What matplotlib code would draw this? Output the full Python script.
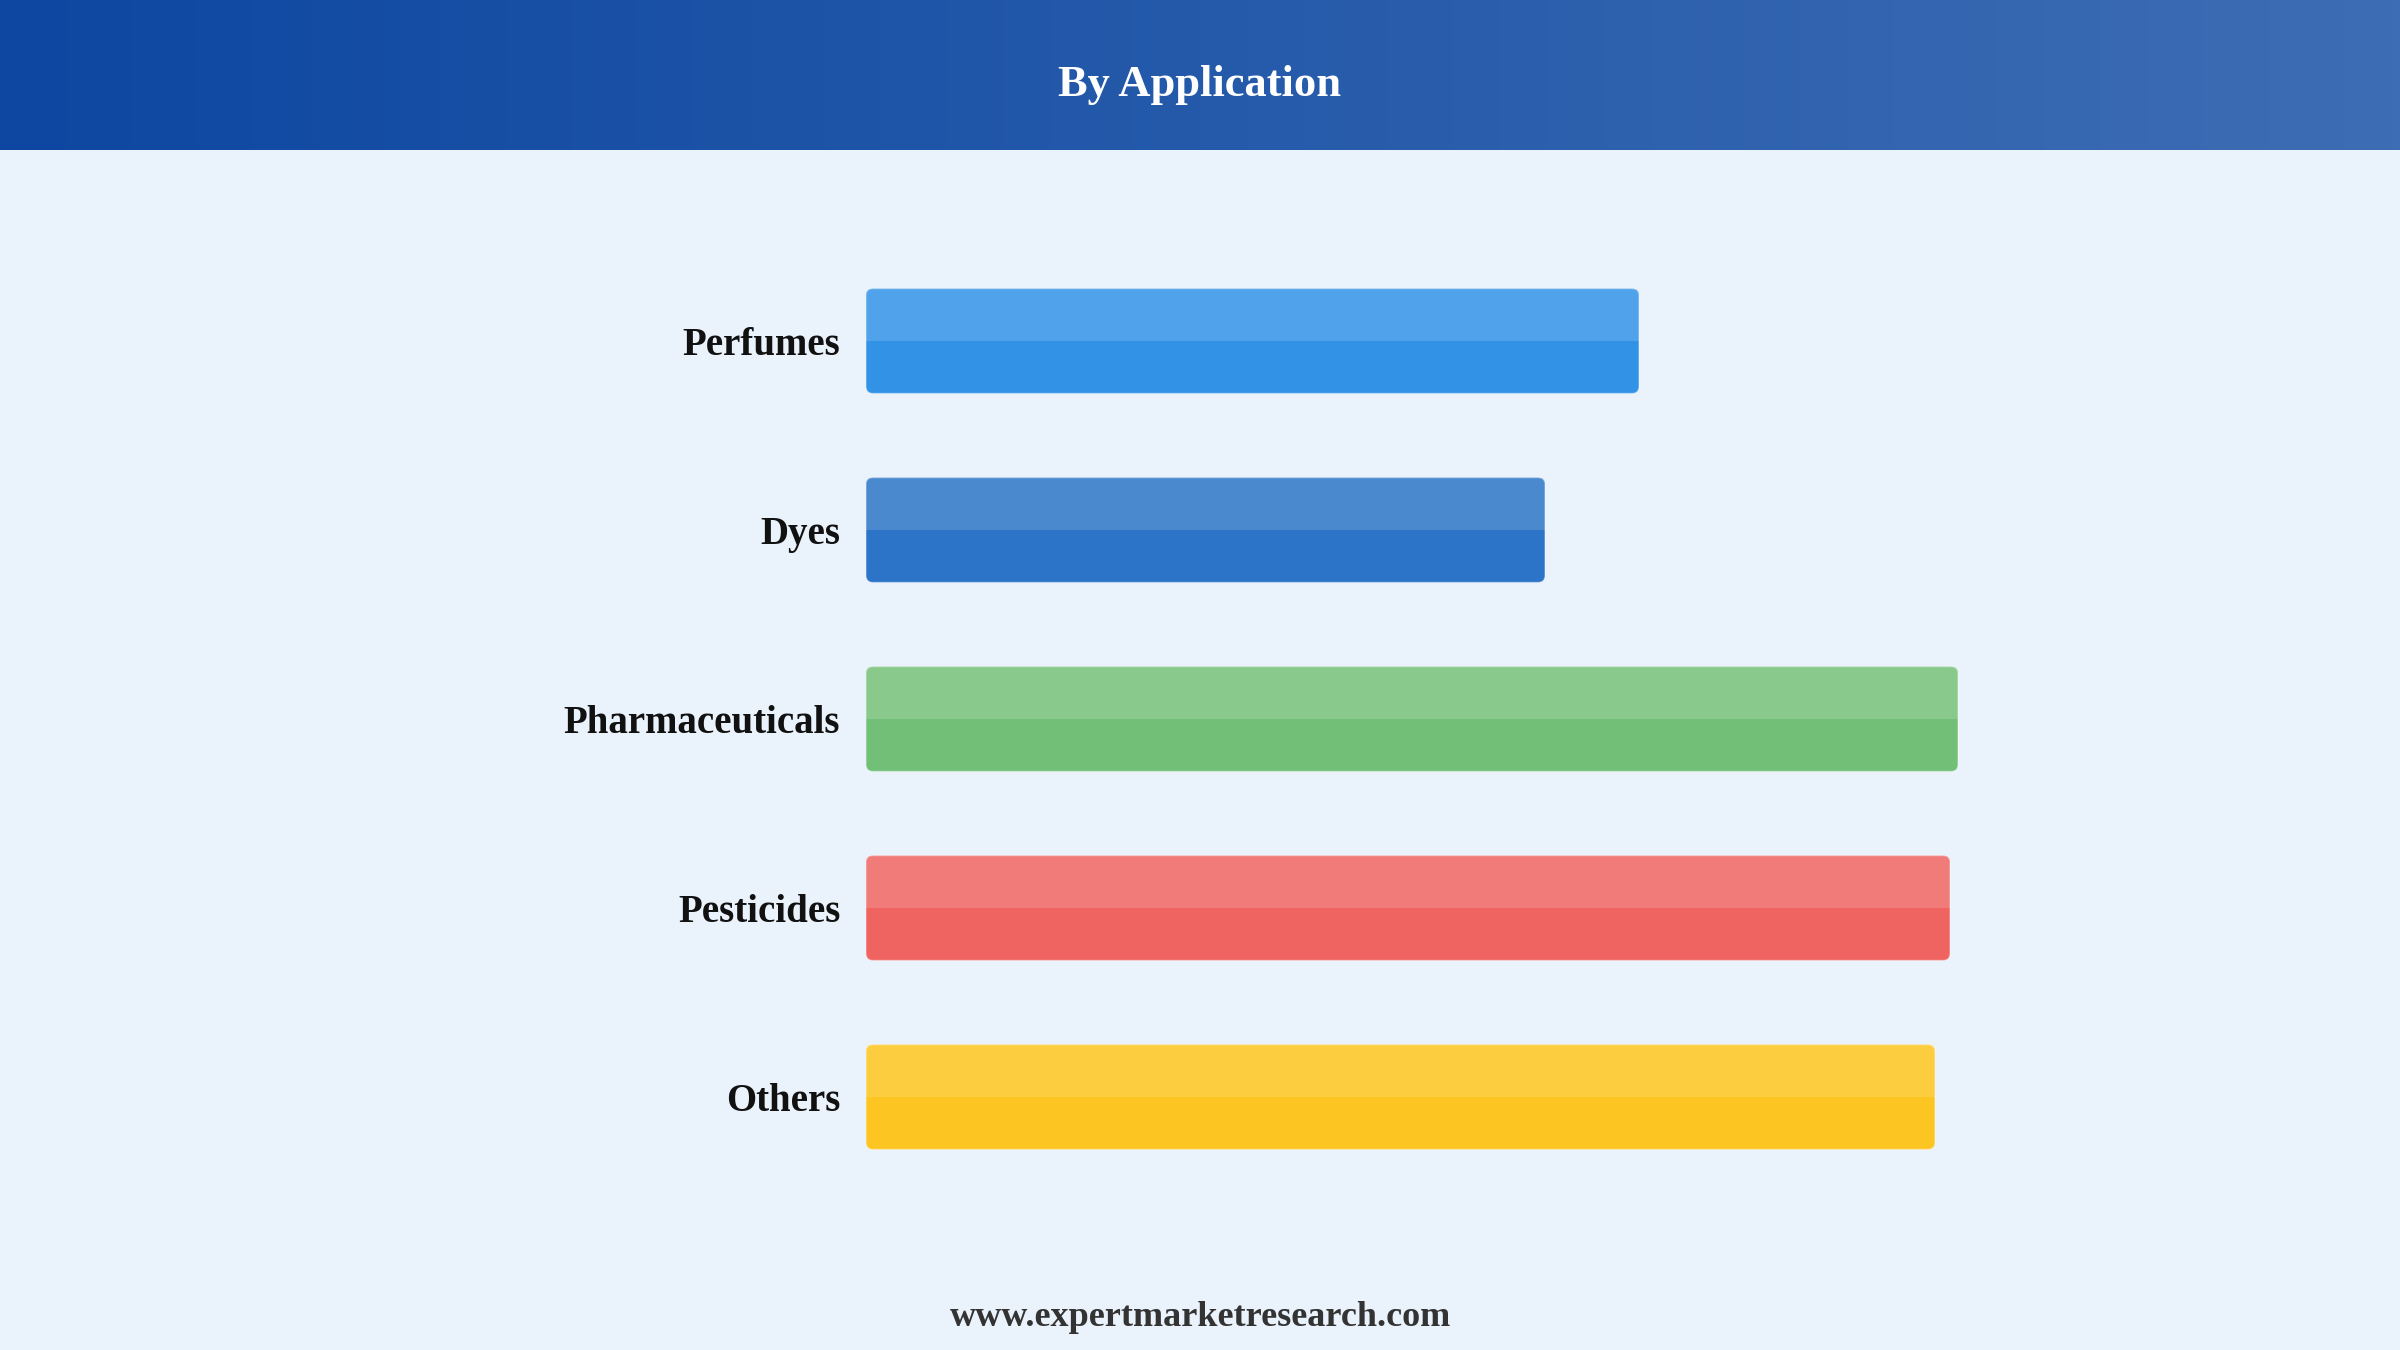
import matplotlib
matplotlib.use('Agg')
import matplotlib.pyplot as plt
import numpy as np
from matplotlib.colors import LinearSegmentedColormap
from matplotlib.patches import FancyBboxPatch, Rectangle

# data
categories = ['Perfumes', 'Dyes', 'Pharmaceuticals', 'Pesticides', 'Others']
values = [7.73, 6.79, 10.92, 10.84, 10.69]
dark_colors = ['#3192E6', '#2C74C8', '#72C077', '#EF6461', '#FDC521']
light_colors = ['#50A3EB', '#4B89CE', '#89CA8C', '#F07B78', '#FDCD40']
title = 'By Application'
footer = 'www.expertmarketresearch.com'

plt.rcParams['font.family'] = ['Liberation Serif', 'DejaVu Serif']

W, H = 2400, 1350
fig = plt.figure(figsize=(24, 13.5), dpi=100)
fig.patch.set_facecolor('#EAF2FB')

# header band with horizontal gradient
hdr = fig.add_axes([0, 1 - 150 / H, 1, 150 / H])
cmap = LinearSegmentedColormap.from_list('hdr', ['#0D47A1', '#3D6DB4'])
hdr.imshow(np.linspace(0, 1, 256)[None, :], aspect='auto', cmap=cmap,
           extent=[0, 1, 0, 1])
hdr.set_axis_off()
fig.text(0.5, 1 - 85 / H, title, ha='center', va='center', fontsize=32,
         fontweight='bold', color='white')

# bar axes
x0, x1 = 866, 1966
xmax = 11.0
ax = fig.add_axes([x0 / W, 1 - 1191.5 / H, (x1 - x0) / W, 945 / H])
ax.set_facecolor('none')
ax.set_xlim(0, xmax)
ax.set_ylim(4.5, -0.5)
for s in ax.spines.values():
    s.set_visible(False)
ax.set_xticks([])
ax.set_yticks(range(len(categories)))
ax.set_yticklabels(categories, fontsize=28, fontweight='bold', color='#111111')
ax.tick_params(axis='y', length=0, pad=18.5)

bar_h = 0.555
bars = ax.barh(range(len(categories)), values, height=bar_h)
xpp = xmax / (x1 - x0)
ypp = 5.0 / 945
radius = 7 * xpp
for i, b in enumerate(bars):
    x, y, w, h = b.get_x(), b.get_y(), b.get_width(), b.get_height()
    b.set_visible(False)
    box = FancyBboxPatch((x, y), w, h,
                         boxstyle='round,pad=0,rounding_size=%f' % radius,
                         mutation_aspect=ypp / xpp,
                         facecolor=dark_colors[i], edgecolor='none', zorder=2)
    ax.add_patch(box)
    top = Rectangle((x, y), w, h / 2, facecolor=light_colors[i],
                    edgecolor='none', zorder=3)
    ax.add_patch(top)
    top.set_clip_path(box)
    edge = FancyBboxPatch((x, y), w, h,
                          boxstyle='round,pad=0,rounding_size=%f' % radius,
                          mutation_aspect=ypp / xpp,
                          facecolor='none', edgecolor='white',
                          linewidth=1.0, alpha=0.35, zorder=4)
    ax.add_patch(edge)

fig.text(0.5, 1 - 1318 / H, footer, ha='center', va='center', fontsize=26,
         fontweight='bold', color='#333333')

fig.savefig('out.png', dpi=100, facecolor=fig.get_facecolor())
plt.close(fig)
